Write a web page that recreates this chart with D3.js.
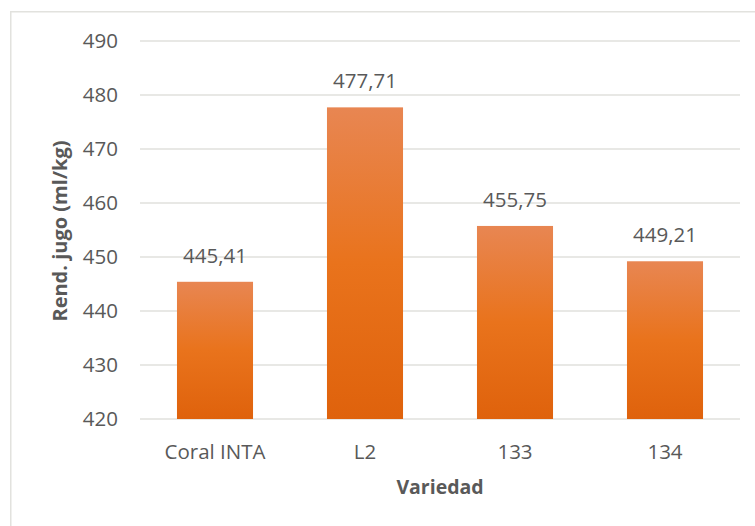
<!DOCTYPE html>
<html lang="es">
<head>
<meta charset="utf-8">
<title>Rend. jugo</title>
<script src="https://cdn.jsdelivr.net/npm/d3@7"></script>
<style>
  body { margin: 0; background: #fff; }
  text { font-family: "Open Sans", sans-serif; fill: #595959; }
</style>
</head>
<body>
<div id="chart"></div>
<script>
var categories = ["Coral INTA", "L2", "133", "134"];
var values = [445.41, 477.71, 455.75, 449.21];
var valueLabels = ["445,41", "477,71", "455,75", "449,21"];
var yTicks = [420, 430, 440, 450, 460, 470, 480, 490];

var width = 755, height = 526;

var svg = d3.select("#chart").append("svg")
    .attr("width", width)
    .attr("height", height);

// gradient for the bars
var grad = svg.append("defs").append("linearGradient")
    .attr("id", "barGrad")
    .attr("x1", 0).attr("y1", 0).attr("x2", 0).attr("y2", 1);
grad.append("stop").attr("offset", "0%").attr("stop-color", "#e88652");
grad.append("stop").attr("offset", "50%").attr("stop-color", "#e9731c");
grad.append("stop").attr("offset", "100%").attr("stop-color", "#df620c");

// outer frame
svg.append("path")
    .attr("d", "M10.75,526 V11.75 H755")
    .attr("fill", "none")
    .attr("stroke", "#e2e2de")
    .attr("stroke-width", 1.5);

var x = d3.scaleBand()
    .domain(categories)
    .range([140, 740])
    .paddingInner(0.493)
    .paddingOuter(0.2465);

var y = d3.scaleLinear()
    .domain([420, 490])
    .range([419, 41]);

// gridlines
svg.append("g").selectAll("line")
    .data(yTicks)
  .enter().append("line")
    .attr("x1", 140).attr("x2", 740)
    .attr("y1", function(d) { return y(d); })
    .attr("y2", function(d) { return y(d); })
    .attr("stroke", "#e1e1dc")
    .attr("stroke-width", 1.5);

// y tick labels
svg.append("g").selectAll("text")
    .data(yTicks)
  .enter().append("text")
    .attr("x", 118)
    .attr("y", function(d) { return y(d); })
    .attr("dy", "0.36em")
    .attr("text-anchor", "end")
    .style("font-size", "20.5px")
    .text(function(d) { return d; });

// bars
svg.append("g").selectAll("rect")
    .data(values)
  .enter().append("rect")
    .attr("x", function(d, i) { return x(categories[i]); })
    .attr("width", x.bandwidth())
    .attr("y", function(d) { return y(d); })
    .attr("height", function(d) { return y(420) - y(d); })
    .attr("fill", "url(#barGrad)");

// value labels
svg.append("g").selectAll("text")
    .data(values)
  .enter().append("text")
    .attr("x", function(d, i) { return x(categories[i]) + x.bandwidth() / 2; })
    .attr("y", function(d) { return y(d) - 19; })
    .attr("text-anchor", "middle")
    .style("font-size", "20.5px")
    .text(function(d, i) { return valueLabels[i]; });

// category labels
svg.append("g").selectAll("text")
    .data(categories)
  .enter().append("text")
    .attr("x", function(d) { return x(d) + x.bandwidth() / 2; })
    .attr("y", 459)
    .attr("text-anchor", "middle")
    .style("font-size", "20.5px")
    .text(function(d) { return d; });

// axis titles
svg.append("text")
    .attr("x", 440)
    .attr("y", 494)
    .attr("text-anchor", "middle")
    .style("font-size", "19.5px")
    .style("font-weight", "bold")
    .text("Variedad");

svg.append("text")
    .attr("transform", "translate(67,231) rotate(-90)")
    .attr("text-anchor", "middle")
    .style("font-size", "20px")
    .style("font-weight", "bold")
    .text("Rend. jugo (ml/kg)");
</script>
</body>
</html>
